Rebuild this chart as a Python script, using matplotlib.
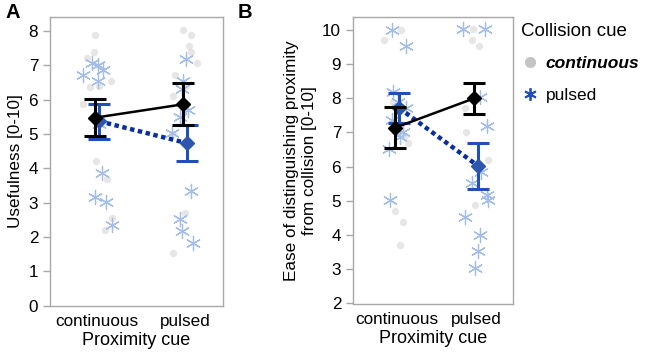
import matplotlib
matplotlib.use("Agg")
import matplotlib.pyplot as plt
from matplotlib.lines import Line2D
import numpy as np

plt.rcParams['font.family'] = ['Liberation Sans', 'DejaVu Sans']

categories = ["continuous", "pulsed"]

# ---- Panel A: Usefulness ----
A_mean_cont = [5.47, 5.86]      # collision cue continuous (black)
A_err_cont = [0.54, 0.61]
A_mean_puls = [5.37, 4.73]      # collision cue pulsed (blue)
A_err_puls = [0.51, 0.52]

A_dots_cont_vals = [7.87, 7.37, 7.2, 6.54, 6.35, 6.38, 5.88, 4.2, 3.68, 2.55, 2.2]
A_dots_cont_jit = [-0.02, -0.03, -0.11, 0.16, -0.08, 0.03, -0.16, -0.01, 0.12, 0.17, 0.09]
A_dots_puls_vals = [8.03, 7.87, 7.55, 7.38, 7.05, 6.7, 6.1, 5.0, 2.7, 1.53, 6.4]
A_dots_puls_jit = [-0.02, 0.07, 0.05, 0.07, 0.14, -0.11, -0.14, -0.14, 0.0, -0.14, 0.01]
A_star_cont_vals = [6.7, 7.05, 7.0, 6.87, 6.55, 3.86, 3.18, 3.03, 2.35, 5.3]
A_star_cont_jit = [-0.16, -0.05, 0.01, 0.07, 0.01, 0.06, -0.02, 0.10, 0.17, 0.03]
A_star_puls_vals = [7.17, 6.54, 6.3, 5.7, 5.5, 5.02, 3.34, 2.53, 2.18, 1.84]
A_star_puls_jit = [0.01, -0.02, -0.03, 0.03, -0.06, -0.15, 0.07, -0.06, -0.03, 0.09]

# ---- Panel B: Ease of distinguishing ----
B_mean_cont = [7.14, 8.00]
B_err_cont = [0.61, 0.46]
B_mean_puls = [7.71, 6.01]
B_err_puls = [0.43, 0.68]

B_dots_cont_vals = [10.0, 9.7, 6.9, 6.7, 4.7, 4.37, 3.71, 7.6, 7.9]
B_dots_cont_jit = [0.05, -0.17, 0.10, 0.13, -0.03, 0.07, 0.04, 0.0, -0.05]
B_dots_puls_vals = [10.02, 9.7, 9.53, 7.7, 7.02, 6.2, 4.87]
B_dots_puls_jit = [-0.04, -0.06, 0.03, -0.15, -0.13, 0.15, -0.02]
B_star_cont_vals = [10.0, 9.52, 8.19, 7.36, 7.7, 7.0, 6.85, 6.5, 5.03, 7.9]
B_star_cont_jit = [-0.07, 0.11, -0.06, -0.07, 0.11, 0.07, 0.04, -0.11, -0.09, 0.01]
B_star_puls_vals = [10.02, 10.02, 8.04, 7.18, 5.84, 5.52, 5.16, 5.01, 4.52, 3.99, 3.52, 3.03]
B_star_puls_jit = [-0.17, 0.11, 0.04, 0.13, 0.06, -0.06, 0.13, 0.15, -0.15, 0.04, 0.02, -0.02]

GREY = "#d2cecb"
STAR = "#a3bdea"
BLUE = "#1f4fb8"
NAVY = "#0b2e9e"
SPINE = "#a8a8a8"

fig = plt.figure(figsize=(6.5, 3.54), dpi=100)
axA = fig.add_axes([0.077, 0.136, 0.266, 0.816])
axB = fig.add_axes([0.543, 0.141, 0.246, 0.811])

def draw(ax, dc_v, dc_j, dp_v, dp_j, sc_v, sc_j, sp_v, sp_j,
         mc, ec, mp, ep, ylim, yticks, ylabel, xlim):
    x = np.arange(len(categories))
    ax.scatter(x[0] + np.array(dc_j), dc_v, s=28, color=GREY, alpha=0.5, lw=0, zorder=1)
    ax.scatter(x[1] + np.array(dp_j), dp_v, s=28, color=GREY, alpha=0.5, lw=0, zorder=1)
    ax.scatter(x[0] + np.array(sc_j), sc_v, s=105, marker=(6, 2, 0), color=STAR, lw=0.9, zorder=2)
    ax.scatter(x[1] + np.array(sp_j), sp_v, s=105, marker=(6, 2, 0), color=STAR, lw=0.9, zorder=2)
    d = 0.025
    ax.plot(x + d, mp, ls=(0, (1, 0.8)), color=NAVY, lw=3.2, zorder=3)
    ax.errorbar(x + d, mp, yerr=ep, fmt='D', color=BLUE, mfc="#2d57ad", mec="#2d57ad",
                ms=7.5, capsize=8, capthick=2.2, elinewidth=2.2, zorder=4)
    ax.plot(x - d, mc, ls='-', color='black', lw=1.8, zorder=5)
    ax.errorbar(x - d, mc, yerr=ec, fmt='D', color='black', ms=7.5,
                capsize=8, capthick=2.2, elinewidth=2.2, zorder=6)
    ax.set_xlim(*xlim)
    ax.set_ylim(*ylim)
    ax.set_yticks(yticks)
    ax.set_xticks(x)
    ax.set_xticklabels(categories, fontsize=12.3)
    ax.tick_params(axis='y', labelsize=12.3, color=SPINE, length=5, width=1)
    ax.tick_params(axis='x', length=0, pad=6)
    for s in ax.spines.values():
        s.set_color(SPINE)
        s.set_linewidth(1)
    ax.set_xlabel("Proximity cue", fontsize=13, labelpad=2)
    ax.set_ylabel(ylabel, fontsize=12.3, labelpad=4)

draw(axA, A_dots_cont_vals, A_dots_cont_jit, A_dots_puls_vals, A_dots_puls_jit,
     A_star_cont_vals, A_star_cont_jit, A_star_puls_vals, A_star_puls_jit,
     A_mean_cont, A_err_cont, A_mean_puls, A_err_puls,
     (0, 8.4), range(0, 9), "Usefulness [0-10]", (-0.53, 1.43))
draw(axB, B_dots_cont_vals, B_dots_cont_jit, B_dots_puls_vals, B_dots_puls_jit,
     B_star_cont_vals, B_star_cont_jit, B_star_puls_vals, B_star_puls_jit,
     B_mean_cont, B_err_cont, B_mean_puls, B_err_puls,
     (1.97, 10.38), range(2, 11), "Ease of distinguishing proximity\nfrom collision [0-10]",
     (-0.56, 1.46))

fig.text(0.008, 0.965, "A", fontsize=14.5, fontweight='bold', va='center')
fig.text(0.366, 0.965, "B", fontsize=14.5, fontweight='bold', va='center')

handles = [Line2D([], [], ls='', marker='o', ms=7, color="#c4c4c4"),
           Line2D([], [], ls='', marker=(6, 2, 0), ms=9, mew=1.3, color=BLUE)]
leg = fig.legend(handles, ["continuous", "pulsed"], title="Collision cue",
                 loc='upper left', bbox_to_anchor=(0.777, 0.98), frameon=False,
                 fontsize=12.5, title_fontsize=13.5, handletextpad=0.35,
                 handlelength=1.1, labelspacing=0.95)
leg._legend_box.align = "left"
leg.get_texts()[0].set_fontweight('bold')
leg.get_texts()[0].set_fontstyle('italic')

fig.savefig("out.png", dpi=100)
